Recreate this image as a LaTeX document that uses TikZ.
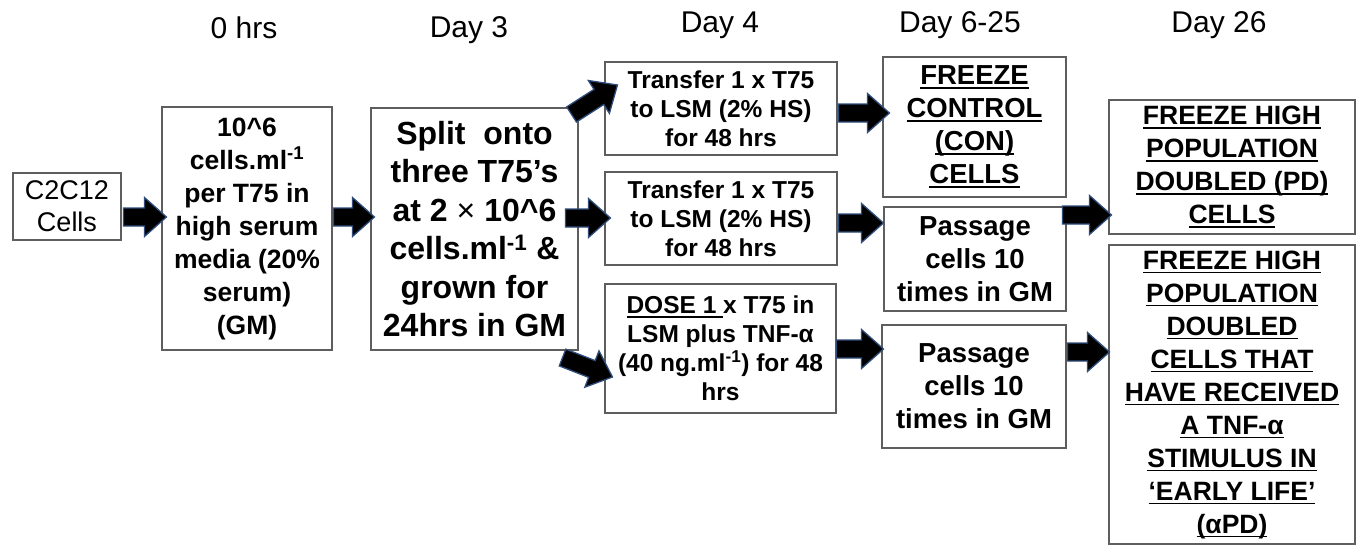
\documentclass[tikz,border=0pt]{standalone}
\usepackage{fontspec}
\setmainfont{Liberation Sans}
\usetikzlibrary{calc}
\newsavebox{\myulbox}
\newcommand{\uln}[1]{\sbox{\myulbox}{#1}\leavevmode\rlap{\rule[-4.4pt]{\wd\myulbox}{1.8pt}}\usebox{\myulbox}}
\definecolor{arrowedge}{HTML}{2E4D7B}
\definecolor{boxedge}{HTML}{5E5E5E}
\begin{document}
\begin{tikzpicture}[x=1pt,y=-1pt,
  box/.style={draw=boxedge, line width=1.1pt, inner sep=0pt, align=center},
  heading/.style={font=\fontsize{30}{36}\selectfont, anchor=base},
  fC/.style={font=\fontsize{27}{32}\selectfont},
  fB/.style={font=\bfseries\fontsize{26.5}{33}\selectfont},
  fS/.style={font=\bfseries\fontsize{32}{38.5}\selectfont},
  fT/.style={font=\bfseries\fontsize{24.5}{29}\selectfont},
  fP/.style={font=\bfseries\fontsize{27.5}{33}\selectfont},
  fF/.style={font=\bfseries\fontsize{26.5}{33}\selectfont},
  blockarrow/.style={fill=black, draw=arrowedge, line width=1.3pt, line join=miter,
    to path={let \p1=(\tikztostart), \p2=(\tikztotarget),
      \n1={atan2(\y2-\y1,\x2-\x1)}, \n2={veclen(\x2-\x1,\y2-\y1)} in
      ($(\p1)+({\n1+90}:9pt)$) -- ($(\p1)+({\n1}:{\n2-22pt})+({\n1+90}:9pt)$)
      -- ($(\p1)+({\n1}:{\n2-22pt})+({\n1+90}:19.5pt)$) -- (\p2)
      -- ($(\p1)+({\n1}:{\n2-22pt})+({\n1-90}:19.5pt)$)
      -- ($(\p1)+({\n1}:{\n2-22pt})+({\n1-90}:9pt)$)
      -- ($(\p1)+({\n1-90}:9pt)$) -- cycle}}
]
\useasboundingbox (0,0) rectangle (1362,546);

% headings
\node[heading] (h0) at (244,38) {0 hrs};
\node[heading] (h3) at (469,37) {Day 3};
\node[heading] (h4) at (720,32) {Day 4};
\node[heading] (h6) at (960,32) {Day 6-25};
\node[heading] (h26) at (1219,32) {Day 26};

% boxes
\node[box, fC, minimum width=108pt, minimum height=67pt] (c2c) at (67,206.5) {C2C12\\Cells};
\node[box, fB, minimum width=170pt, minimum height=243pt] (b2) at (247,228.5)
  {10\textasciicircum 6\\cells.ml\textsuperscript{-1}\\per T75 in\\high serum\\media (20\%\\serum)\\(GM)};
\node[box, fS, minimum width=207pt, minimum height=242pt] (b3) at (474.5,229)
  {Split\ \ onto\\three T75’s\\at 2 {\mdseries ×} 10\textasciicircum 6\\cells.ml\textsuperscript{-1} \&\\grown for\\24hrs in GM};
\node[box, fT, minimum width=232pt, minimum height=93pt] (b4a) at (721,108.5)
  {Transfer 1 x T75\\to LSM (2\% HS)\\for 48 hrs};
\node[box, fT, minimum width=232pt, minimum height=93pt] (b4b) at (721,218.5)
  {Transfer 1 x T75\\to LSM (2\% HS)\\for 48 hrs};
\node[box, fT, minimum width=231pt, minimum height=129pt] (b4c) at (720.5,348.5)
  {\uln{DOSE 1\ }x T75 in\\LSM plus TNF-α\\(40 ng.ml\textsuperscript{-1}) for 48\\hrs};
\node[box, fP, minimum width=183pt, minimum height=140pt] (b5a) at (974.5,127)
  {\uln{FREEZE}\\\uln{CONTROL}\\\uln{(CON)}\\\uln{CELLS}};
\node[box, fP, minimum width=182pt, minimum height=104pt] (b5b) at (975,259)
  {Passage\\cells 10\\times in GM};
\node[box, fP, minimum width=184pt, minimum height=123pt] (b5c) at (974,386.5)
  {Passage\\cells 10\\times in GM};
\node[box, fF, minimum width=246pt, minimum height=134pt] (b6a) at (1232,167)
  {\uln{FREEZE HIGH}\\\uln{POPULATION}\\\uln{DOUBLED (PD)}\\\uln{CELLS}};
\node[box, fF, minimum width=246pt, minimum height=299pt] (b6b) at (1232,394.5)
  {\uln{FREEZE HIGH}\\\uln{POPULATION}\\\uln{DOUBLED}\\\uln{CELLS THAT}\\\uln{HAVE RECEIVED}\\\uln{A TNF-α}\\\uln{STIMULUS IN}\\\uln{‘EARLY LIFE’}\\\uln{(αPD)}};

% block arrows
\draw[blockarrow] ($(c2c.east)+(2,10.5)$) to ($(b2.west)+(5,-11.5)$);
\draw[blockarrow] ($(b2.east)+(1,-11.5)$) to ($(b3.west)+(4,-12)$);
\draw[blockarrow] ($(b3.north east)+(-7,7)$) to ($(b4a.west)+(13,-23.5)$);
\draw[blockarrow] ($(b3.east)+(-13,-11)$) to ($(b4b.west)+(6,-0.5)$);
\draw[blockarrow] ($(b3.south east)+(-16,7)$) to ($(b4c.west)+(8,28.5)$);
\draw[blockarrow] ($(b4a.east)+(1,4.5)$) to ($(b5a.west)+(7,-14)$);
\draw[blockarrow] ($(b4b.east)+(1,4.5)$) to ($(b5b.west)+(0,-36)$);
\draw[blockarrow] ($(b4c.east)+(0,0.5)$) to ($(b5c.west)+(2,-37.5)$);
\draw[blockarrow] ($(b5b.east)+(-4,-44)$) to ($(b6a.west)+(3,48)$);
\draw[blockarrow] ($(b5c.east)+(1,-34.5)$) to ($(b6b.west)+(1,-42.5)$);
\end{tikzpicture}
\end{document}
